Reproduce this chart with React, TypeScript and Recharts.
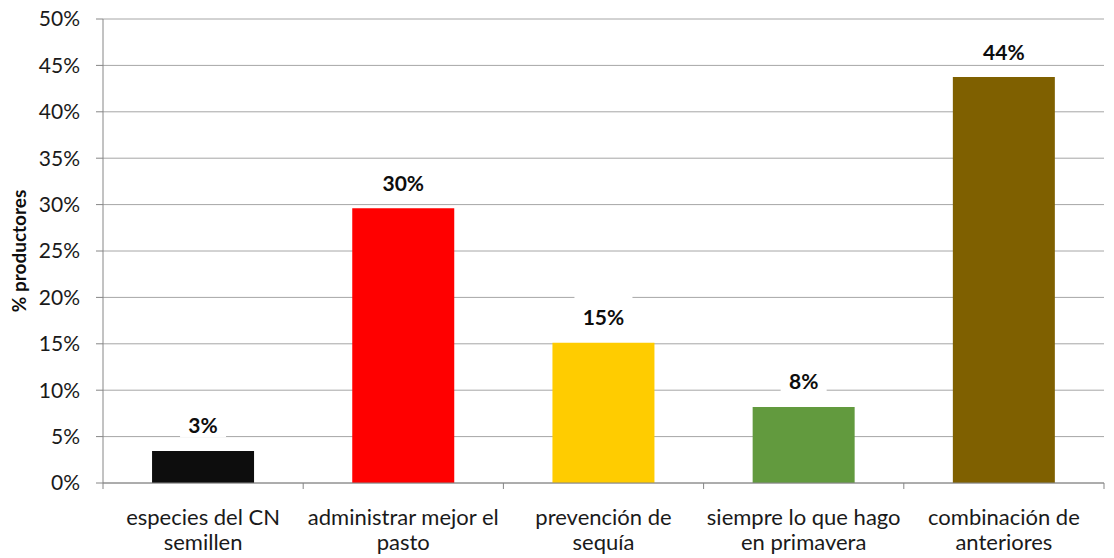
import { Bar, BarChart, CartesianGrid, Cell, LabelList, XAxis, YAxis } from "recharts";

const categories = [
  ["especies del CN", "semillen"],
  ["administrar mejor el", "pasto"],
  ["prevención de", "sequía"],
  ["siempre lo que hago", "en primavera"],
  ["combinación de", "anteriores"],
];
const values = [3.45, 29.6, 15.1, 8.2, 43.75];
const colors = ["#0d0d0d", "#ff0000", "#ffcc00", "#629a3e", "#7f6000"];
const yTicks = [0, 5, 10, 15, 20, 25, 30, 35, 40, 45, 50];

const data = categories.map((c, i) => ({ name: c.join(" "), lines: c, value: values[i] }));

const FONT = "Lato, 'Open Sans', sans-serif";
const AXIS = "#868686";
const GRID = "#a6a6a6";

function CategoryTick(props: any) {
  const { x, y, index, payload } = props;
  const lines = data[index]?.lines ?? [];
  const half = payload?.offset ?? 100;
  return (
    <g>
      <line x1={x - half} x2={x - half} y1={y} y2={y + 6} stroke={AXIS} />
      {index === data.length - 1 && <line x1={x + half} x2={x + half} y1={y} y2={y + 6} stroke={AXIS} />}
      <text x={x} y={y} textAnchor="middle" fontFamily={FONT} fontSize={22} fill="#1a1a1a">
        {lines.map((l: string, i: number) => (
          <tspan key={i} x={x} dy={i === 0 ? 42 : 25}>
            {l}
          </tspan>
        ))}
      </text>
    </g>
  );
}

function ValueLabel(props: any) {
  const { x, y, width, value } = props;
  const text = `${Math.round(value)}%`;
  const cx = x + width / 2;
  const cy = y - 26;
  const w = text.length * 12 + 22;
  return (
    <g>
      <rect x={cx - w / 2} y={cy - 21} width={w} height={33} fill="#ffffff" />
      <text x={cx} y={cy} textAnchor="middle" dominantBaseline="central" fontFamily={FONT} fontSize={21} fontWeight="bold" fill="#0d0d0d">
        {text}
      </text>
    </g>
  );
}

export default function App() {
  return (
    <div style={{ position: "absolute", left: 0, top: 0, background: "#fff" }}>
      <BarChart width={1114} height={558} data={data} margin={{ top: 19, right: 10, bottom: 74, left: 0 }} barCategoryGap="24.5%">
        <CartesianGrid vertical={false} stroke={GRID} />
        <XAxis
          dataKey="name"
          height={1}
          tickLine={false}
          tickSize={0}
          tickMargin={0}
          axisLine={{ stroke: AXIS }}
          tick={<CategoryTick />}
          interval={0}
        />
        <YAxis
          width={103}
          domain={[0, 50]}
          ticks={yTicks}
          tickFormatter={(v) => `${v}%`}
          axisLine={{ stroke: AXIS }}
          tickLine={{ stroke: AXIS }}
          tickSize={7}
          tickMargin={16}
          tick={{ fontFamily: FONT, fontSize: 21, fill: "#1a1a1a" }}
          label={{
            content: ({ viewBox }: any) => {
              const cy = viewBox.y + viewBox.height / 2;
              return (
                <text x={18} y={cy} transform={`rotate(-90 18 ${cy})`} textAnchor="middle" dominantBaseline="central" fontFamily={FONT} fontSize={19} fontWeight="bold" fill="#0d0d0d">
                  % productores
                </text>
              );
            },
          }}
        />
        <Bar dataKey="value" isAnimationActive={false}>
          {data.map((d, i) => (
            <Cell key={d.name} fill={colors[i]} />
          ))}
          <LabelList dataKey="value" content={<ValueLabel />} />
        </Bar>
      </BarChart>
    </div>
  );
}
